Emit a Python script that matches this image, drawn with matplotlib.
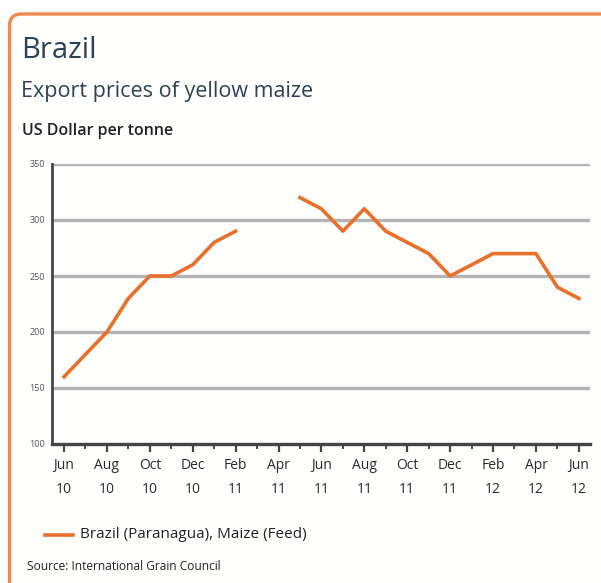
import numpy as np
import matplotlib
matplotlib.use("Agg")
import matplotlib.pyplot as plt
from matplotlib.patches import FancyBboxPatch
from matplotlib.lines import Line2D

months = ["Jun", "Jul", "Aug", "Sep", "Oct", "Nov", "Dec", "Jan", "Feb", "Mar", "Apr", "May",
          "Jun", "Jul", "Aug", "Sep", "Oct", "Nov", "Dec", "Jan", "Feb", "Mar", "Apr", "May", "Jun"]
years = ["10", "10", "10", "10", "10", "10", "10", "11", "11", "11", "11", "11",
         "11", "11", "11", "11", "11", "11", "11", "12", "12", "12", "12", "12", "12"]
prices = [160, 180, 200, 230, 250, 250, 260, 280, 290, None, None, 320,
          310, 290, 310, 290, 280, 270, 250, 260, 270, 270, 270, 240, 230]
yticks = [100, 150, 200, 250, 300, 350]

title = "Brazil"
subtitle = "Export prices of yellow maize"
unit = "US Dollar per tonne"
series_name = "Brazil (Paranagua), Maize (Feed)"
source = "Source: International Grain Council"

FONT = "Open Sans"
plt.rcParams["font.family"] = [FONT, "DejaVu Sans"]

W, H = 601, 583
fig = plt.figure(figsize=(W / 100, H / 100), dpi=100)
fig.patch.set_facecolor("white")

ORANGE = "#e8702a"
FRAME = "#ef8a4e"
DARK = "#2f4254"

# frame
frame = FancyBboxPatch((9.5 / W, -20 / H), (W + 30) / W, (H - 14 + 20) / H,
                       boxstyle="round,pad=0,rounding_size=0.02",
                       transform=fig.transFigure, facecolor="#fefefd",
                       edgecolor=FRAME, linewidth=2.4, zorder=-5)
fig.patches.append(frame)

ax = fig.add_axes([52 / W, 1 - 444 / H, (590 - 52) / W, (444 - 164) / H])
ax.set_facecolor("none")
ax.set_zorder(2)

x = np.arange(len(months))
y = np.array([np.nan if v is None else v for v in prices], dtype=float)
ax.plot(x, y, color=ORANGE, linewidth=2.6, solid_joinstyle="round", zorder=3)

ax.set_xlim(-0.56, 24.52)
ax.set_ylim(100, 350)
ax.set_yticks(yticks)
ax.set_yticklabels([str(v) for v in yticks], fontsize=6.5, color="#555555")
for v in yticks[1:]:
    ax.axhline(v, color="#b4b4b4", linewidth=2.4, zorder=1)

major = x[::2]
ax.set_xticks(major)
ax.set_xticklabels([f"{months[i]}\n{years[i]}" for i in major], fontsize=10,
                   color="#2a2a2a", linespacing=1.85)
ax.set_xticks(x, minor=True)
ax.tick_params(axis="x", which="major", length=6, width=1.6, color="#444444", pad=4)
ax.tick_params(axis="x", which="minor", length=3.5, width=1.4, color="#444444")
ax.tick_params(axis="y", length=0, pad=5)

for s in ["top", "right"]:
    ax.spines[s].set_visible(False)
ax.spines["left"].set_color("#444444")
ax.spines["left"].set_linewidth(2)
ax.spines["bottom"].set_color("#444444")
ax.spines["bottom"].set_linewidth(2.4)

fig.text(21 / W, 1 - 50 / H, title, fontsize=21, color=DARK, va="center", ha="left")
fig.text(21 / W, 1 - 92 / H, subtitle, fontsize=15.5, color=DARK, va="center", ha="left")
fig.text(22 / W, 1 - 131 / H, unit, fontsize=11.5, fontweight="semibold", color="#222222",
         va="center", ha="left")

fig.add_artist(Line2D([45 / W, 73 / W], [1 - 535 / H, 1 - 535 / H],
                      color=ORANGE, linewidth=2.6, transform=fig.transFigure))
fig.text(80 / W, 1 - 535 / H, series_name, fontsize=11, color="#222222", va="center", ha="left")
fig.text(27 / W, 1 - 567 / H, source, fontsize=8.6, color="#222222", va="center", ha="left")

fig.savefig("out.png", dpi=100, facecolor=fig.get_facecolor())
